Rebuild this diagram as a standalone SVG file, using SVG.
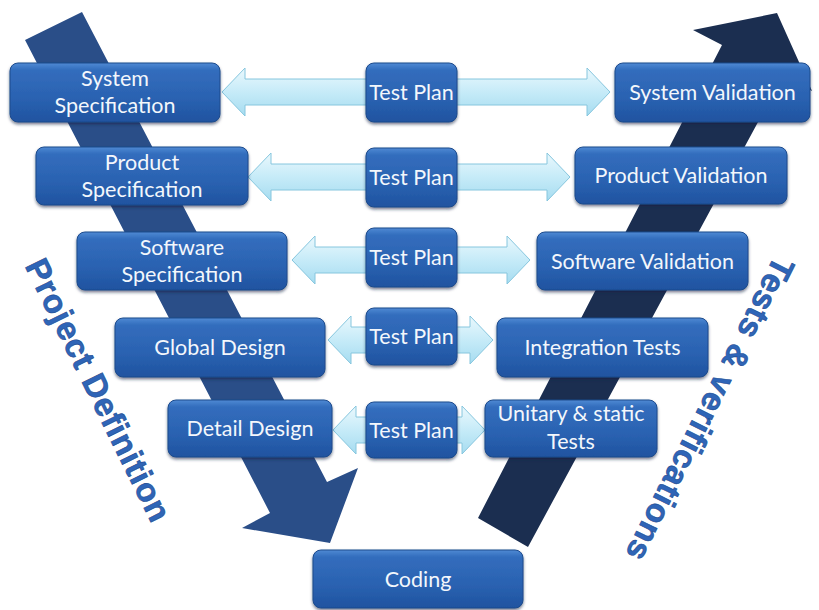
<svg xmlns="http://www.w3.org/2000/svg" width="819" height="610" viewBox="0 0 819 610">
<defs>
  <linearGradient id="boxg" x1="0" y1="0" x2="0" y2="1">
    <stop offset="0" stop-color="#4f8ad4"/>
    <stop offset="0.12" stop-color="#336dbd"/>
    <stop offset="0.6" stop-color="#2a62b1"/>
    <stop offset="1" stop-color="#1f53a0"/>
  </linearGradient>
  <linearGradient id="arrg" x1="0" y1="0" x2="0" y2="1">
    <stop offset="0" stop-color="#eaf8fd"/>
    <stop offset="0.5" stop-color="#c6ebf8"/>
    <stop offset="1" stop-color="#a6dcf0"/>
  </linearGradient>
  <filter id="sh" x="-10%" y="-10%" width="120%" height="140%">
    <feDropShadow dx="0" dy="2" stdDeviation="1.8" flood-color="#0a1e3c" flood-opacity="0.55"/>
  </filter>
</defs>
<style>
  .box { fill: url(#boxg); stroke: #1c4a8c; stroke-width: 1; filter: url(#sh); }
  .lbl { fill: #f3f7fc; font-family: Lato, "Liberation Sans", sans-serif; font-size: 21.5px; text-anchor: middle; }
  .dbl { fill: url(#arrg); stroke: #86c6de; stroke-width: 1; }
  .big { font-family: "Liberation Sans", Arial, sans-serif; font-weight: bold; font-size: 33px; fill: #2f65b7; stroke: #1f4c91; stroke-width: 0.6; text-anchor: middle; }
</style>

<g id="vshape">
  <polygon id="left-arrow" points="25,40 82,12 327,482 358,468 330,543 242,528 270,513" fill="#2a4e88"/>
  <polygon id="right-arrow" points="478,518 722,45 693,30 777,13 812,91 783,76 528,547" fill="#1b2e50"/>
</g>

<g id="side-labels">
  <text class="big" transform="translate(88,395) rotate(63.8)" textLength="288" lengthAdjust="spacing">Project Definition</text>
  <text class="big" transform="translate(700,404) rotate(116.6)" textLength="335" lengthAdjust="spacing">Tests &amp; verifications</text>
</g>

<g id="connectors">
  <path class="dbl" d="M222,92 L245,68 L245,79 L587,79 L587,68 L610,92 L587,116 L587,105 L245,105 L245,116 Z"/>
  <path class="dbl" d="M248,177 L271,153 L271,164 L547,164 L547,153 L570,177 L547,201 L547,190 L271,190 L271,201 Z"/>
  <path class="dbl" d="M292,260 L315,236 L315,247 L507,247 L507,236 L530,260 L507,284 L507,273 L315,273 L315,284 Z"/>
  <path class="dbl" d="M328,340 L351,316 L351,327 L470,327 L470,316 L493,340 L470,364 L470,353 L351,353 L351,364 Z"/>
  <path class="dbl" d="M333,430 L356,406 L356,417 L462,417 L462,406 L485,430 L462,454 L462,443 L356,443 L356,454 Z"/>
</g>

<g id="system-spec"><rect class="box" x="10" y="63" width="210" height="59" rx="8"/><text class="lbl" x="115" y="86">System</text><text class="lbl" x="115" y="113">Specification</text></g>
<g id="product-spec"><rect class="box" x="36" y="147" width="212" height="58" rx="8"/><text class="lbl" x="142" y="170">Product</text><text class="lbl" x="142" y="197">Specification</text></g>
<g id="software-spec"><rect class="box" x="77" y="232" width="210" height="58" rx="8"/><text class="lbl" x="182" y="255">Software</text><text class="lbl" x="182" y="282">Specification</text></g>
<g id="global-design"><rect class="box" x="115" y="318" width="210" height="59" rx="8"/><text class="lbl" x="220" y="355">Global Design</text></g>
<g id="detail-design"><rect class="box" x="168" y="400" width="164" height="57" rx="8"/><text class="lbl" x="250" y="436">Detail Design</text></g>
<g id="coding"><rect class="box" x="313" y="550" width="210" height="58" rx="8"/><text class="lbl" x="418" y="587">Coding</text></g>

<g id="test-plan-1"><rect class="box" x="366" y="63" width="91" height="59" rx="8"/><text class="lbl" x="411.5" y="100">Test Plan</text></g>
<g id="test-plan-2"><rect class="box" x="366" y="148" width="91" height="59" rx="8"/><text class="lbl" x="411.5" y="185">Test Plan</text></g>
<g id="test-plan-3"><rect class="box" x="366" y="228" width="91" height="59" rx="8"/><text class="lbl" x="411.5" y="265">Test Plan</text></g>
<g id="test-plan-4"><rect class="box" x="366" y="308" width="91" height="57" rx="8"/><text class="lbl" x="411.5" y="344">Test Plan</text></g>
<g id="test-plan-5"><rect class="box" x="366" y="402" width="91" height="56" rx="8"/><text class="lbl" x="411.5" y="438">Test Plan</text></g>

<g id="system-validation"><rect class="box" x="615" y="63" width="195" height="59" rx="8"/><text class="lbl" x="712.5" y="100">System Validation</text></g>
<g id="product-validation"><rect class="box" x="575" y="147" width="212" height="57" rx="8"/><text class="lbl" x="681" y="183">Product Validation</text></g>
<g id="software-validation"><rect class="box" x="537" y="232" width="211" height="58" rx="8"/><text class="lbl" x="642.5" y="269">Software Validation</text></g>
<g id="integration-tests"><rect class="box" x="497" y="318" width="211" height="59" rx="8"/><text class="lbl" x="602.5" y="355">Integration Tests</text></g>
<g id="unitary-tests"><rect class="box" x="485" y="400" width="172" height="57" rx="8"/><text class="lbl" x="571" y="421">Unitary &amp; static</text><text class="lbl" x="571" y="449">Tests</text></g>
</svg>
